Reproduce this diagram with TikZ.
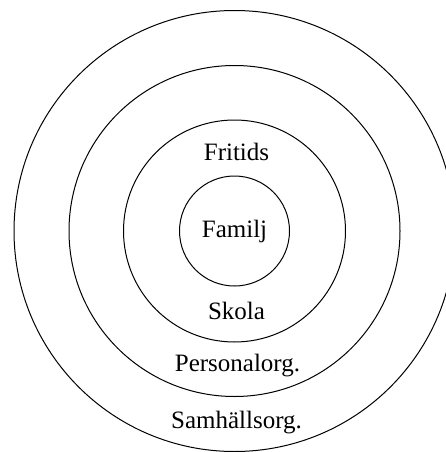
\documentclass[tikz,border=0pt]{standalone}
\usepackage{fontspec}
\setmainfont{Liberation Serif}
\usetikzlibrary{positioning,calc}

\begin{document}
\begin{tikzpicture}[
  x=1pt, y=1pt,
  font=\fontsize{25}{29}\selectfont,
  ring/.style={draw=black, line width=1pt},
  lbl/.style={inner sep=1pt},
]

%% ---------- frame (outer ring runs past the right edge) ----------
\clip (0,0) rectangle (446,-452);
\fill[white] (0,0) rectangle (446,-452);

\coordinate (c) at (234.5,-231);

%% ---------- rings, innermost first ----------
\draw[ring] (c) circle[radius=55];
\draw[ring] (c) circle[radius=111];
\draw[ring] (c) circle[radius=165.5];
\draw[ring] (c) circle[radius=220.5];

%% ---------- labels ----------
\node[lbl] (familj)   at ($(c)+(0,0)$)   {Familj};
\node[lbl] (fritids)  at ($(c)+(2,79)$)  {Fritids};
\node[lbl] (skola)    at ($(c)+(2,-80)$) {Skola};
\node[lbl] (personal) at ($(c)+(3,-135)$) {Personalorg.};
\node[lbl] (samhall)  at ($(c)+(2,-192)$) {Samhällsorg.};

\end{tikzpicture}
\end{document}
